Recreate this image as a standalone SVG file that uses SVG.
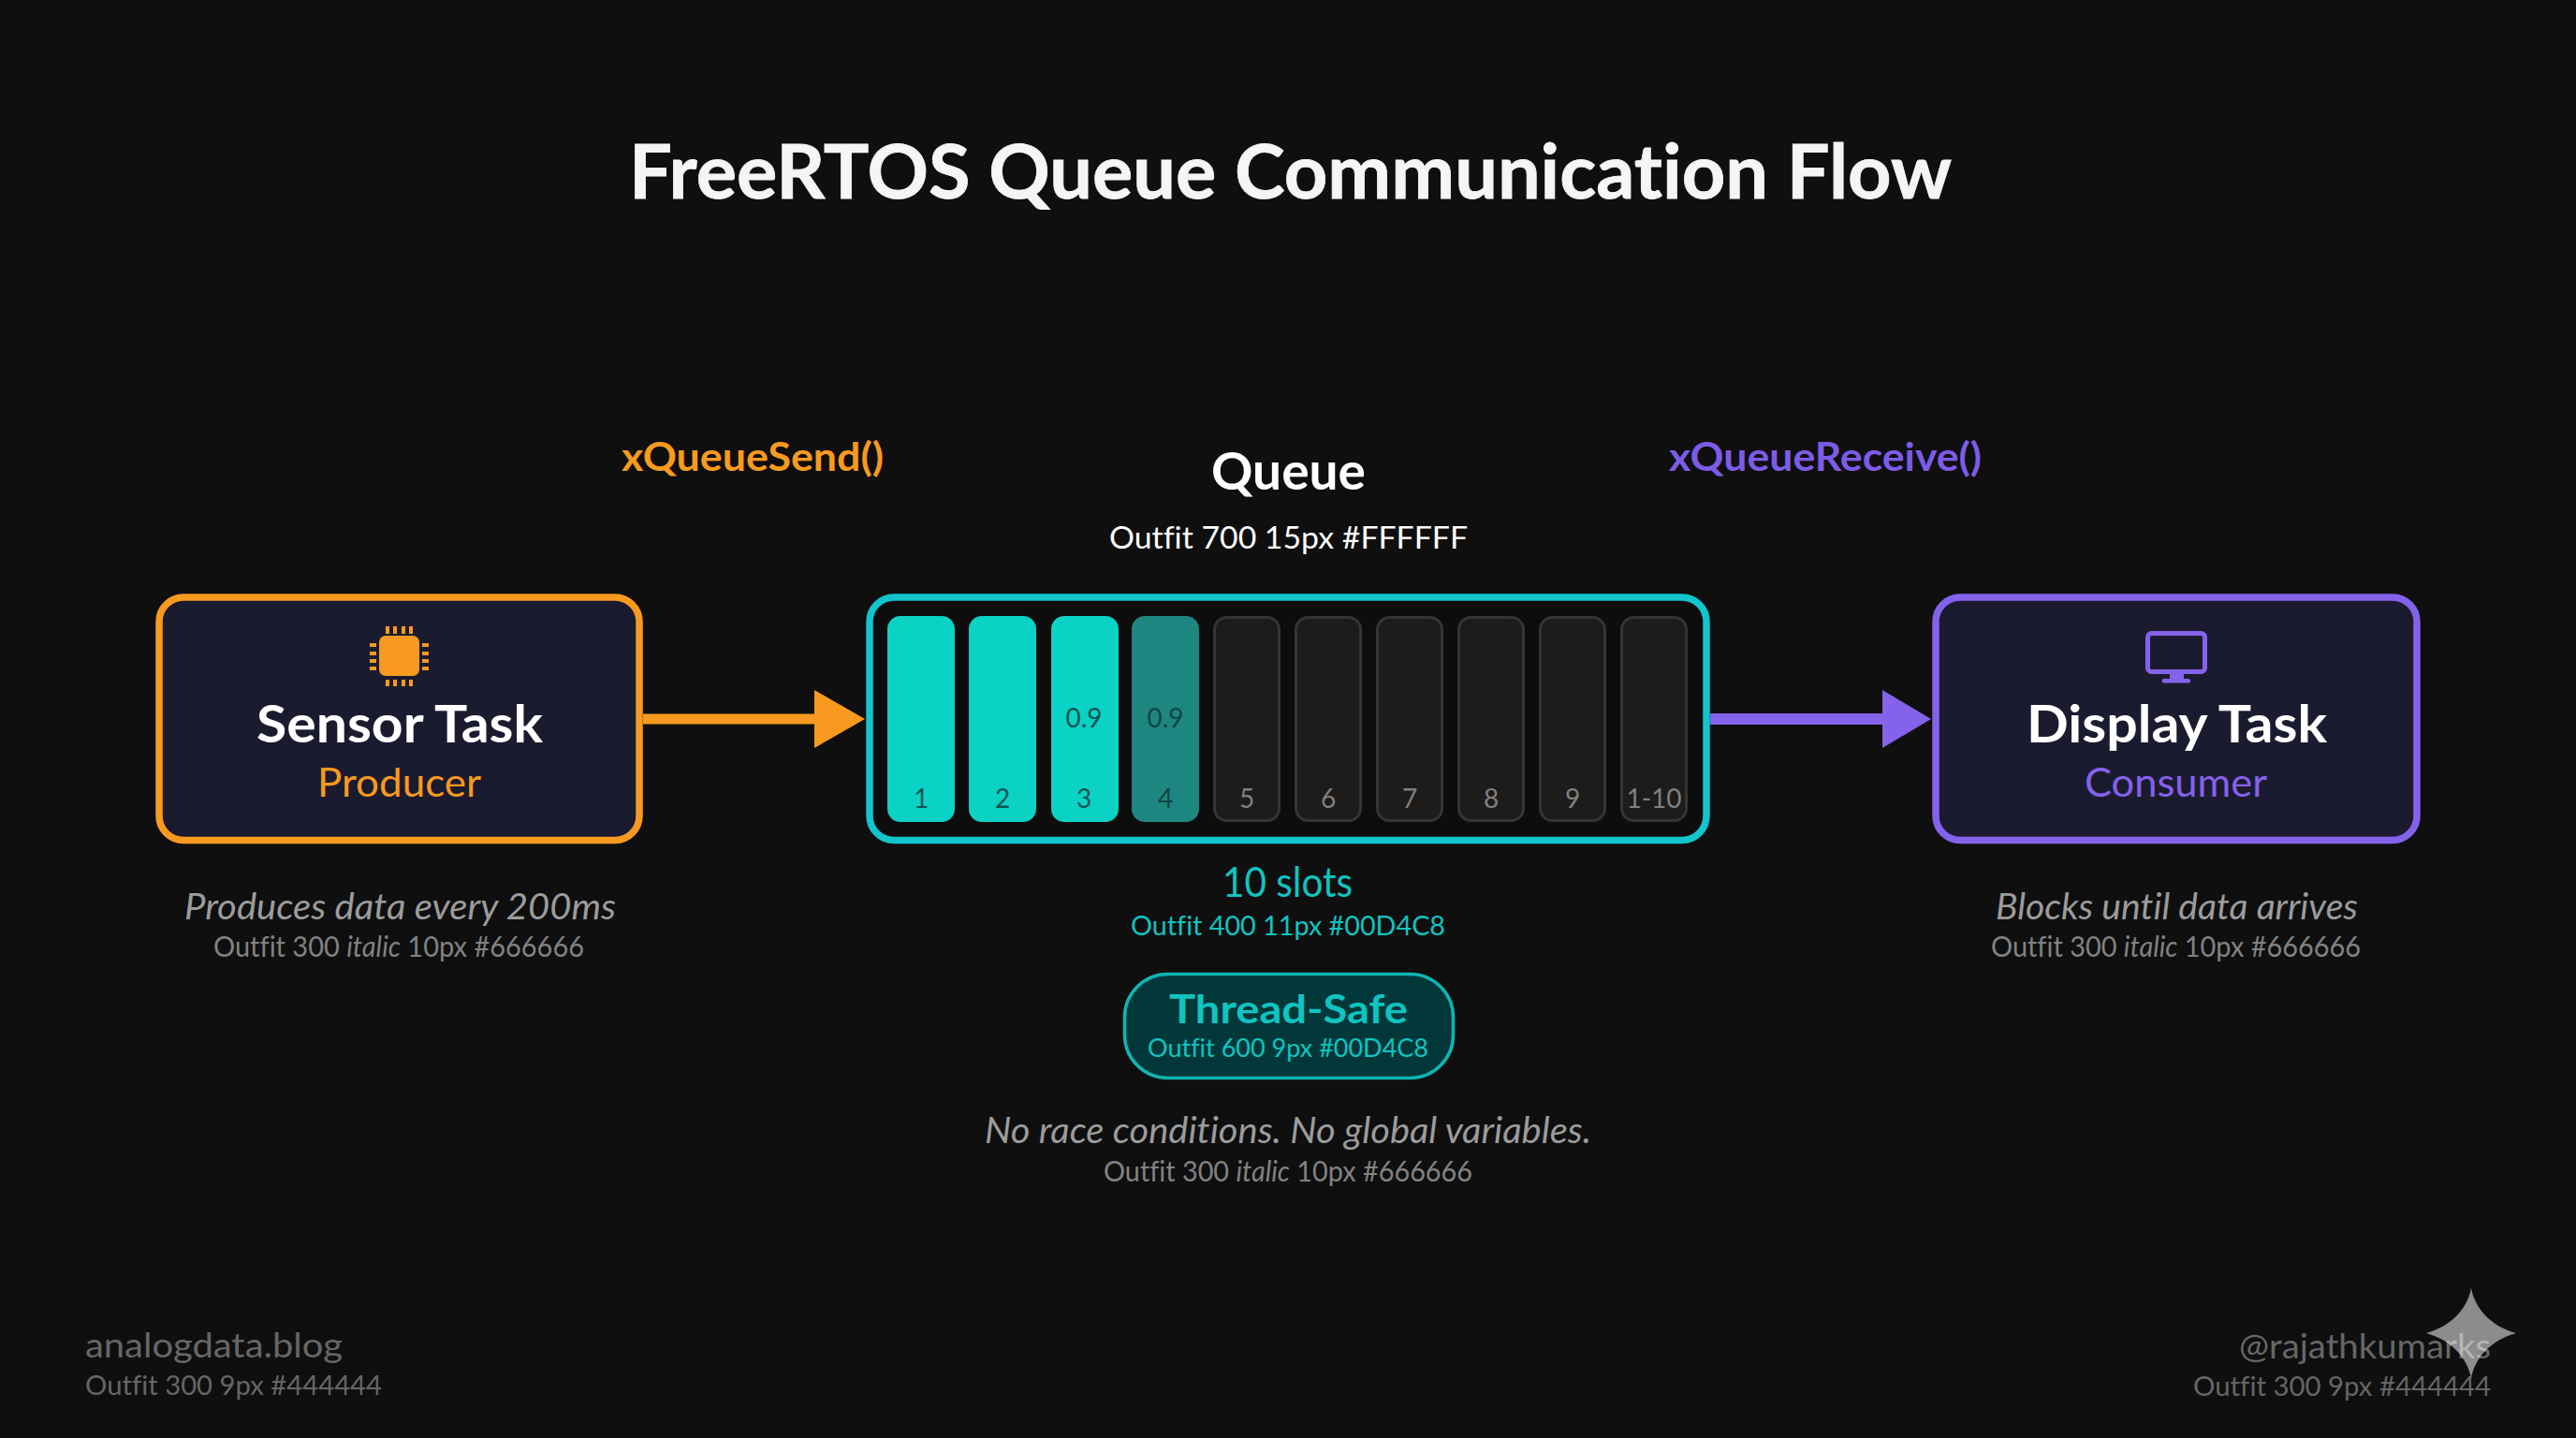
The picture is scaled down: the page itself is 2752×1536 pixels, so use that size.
<svg xmlns="http://www.w3.org/2000/svg" width="2752" height="1536" viewBox="0 0 2752 1536">
<style>
text{font-family:"Lato","Open Sans","Liberation Sans",sans-serif;font-variant-ligatures:none}
.bg{fill:#0f0f0f}
.box{stroke-width:7.5}
.or{fill:#f79a1f}
.pu{fill:#8562ea}
.h1{font-size:81px;font-weight:700;fill:#f5f5f5;stroke:#f5f5f5;stroke-width:.8}
.name{font-size:56px;font-weight:700;fill:#fff}
.role{font-size:42px;font-weight:400}
.fn{font-size:42px;font-weight:700}
.desc{font-size:38px;font-weight:400;font-style:italic;fill:#9c9c9c}
.sub{font-size:30px;font-weight:400;fill:#828282}
.sub tspan{font-style:italic}
.foot{font-size:36px;font-weight:400;fill:#666}
.footsub{font-size:28px;font-weight:400;fill:#666}
.teal{fill:#10c4c0}
.full{fill:#0ad2c5}
.half{fill:#1e8680}
.empty{fill:#1d1c1b;stroke:#353535;stroke-width:3}
.num{font-size:28px;font-weight:400;text-anchor:middle}
.d{fill:#0c5452}
.d2{fill:#0e4644}
.e{fill:#808080}
</style>
<defs>
<marker id="headO" markerUnits="userSpaceOnUse" markerWidth="54" markerHeight="62" refX="0" refY="31" orient="auto"><path d="M0 0L54 31L0 62Z" fill="#f79a1f"/></marker>
<marker id="headP" markerUnits="userSpaceOnUse" markerWidth="52" markerHeight="62" refX="0" refY="31" orient="auto"><path d="M0 0L52 31L0 62Z" fill="#8562ea"/></marker>
</defs>
<rect class="bg" width="2752" height="1536"/>
<g id="title"><text class="h1" x="672" y="212" textLength="1413" lengthAdjust="spacingAndGlyphs">FreeRTOS Queue Communication Flow</text></g>

<g id="connectors">
<line x1="687" y1="768" x2="870" y2="768" stroke="#f79a1f" stroke-width="11" marker-end="url(#headO)"/>
<line x1="1827" y1="768" x2="2011" y2="768" stroke="#8562ea" stroke-width="12" marker-end="url(#headP)"/>
<text class="fn or" x="664" y="503" textLength="280" lengthAdjust="spacingAndGlyphs">xQueueSend()</text>
<text class="fn" fill="#7c5ce6" x="1783" y="503" textLength="334" lengthAdjust="spacingAndGlyphs">xQueueReceive()</text>
</g>

<g id="sensor-task">
<rect class="box" x="170" y="638" width="513" height="259.500" rx="26" fill="#1b1b30" stroke="#f79a1f"/>
<g id="chip-icon" class="or">
<rect x="405" y="679" width="43" height="43" rx="7"/>
<path d="M412 669h4v8h-4zM420 669h4v8h-4zM429 669h4v8h-4zM437 669h4v8h-4zM412 726h4v7h-4zM420 726h4v7h-4zM429 726h4v7h-4zM437 726h4v7h-4zM395 687h7v4h-7zM395 696h7v4h-7zM395 704h7v4h-7zM395 712h7v4h-7zM451 687h7v4h-7zM451 696h7v4h-7zM451 704h7v4h-7zM451 712h7v4h-7z"/>
</g>
<text class="name" x="274" y="793" textLength="306" lengthAdjust="spacingAndGlyphs">Sensor Task</text>
<text class="role or" x="339" y="851" textLength="175" lengthAdjust="spacingAndGlyphs">Producer</text>
<text class="desc" x="197" y="982" textLength="461" lengthAdjust="spacingAndGlyphs">Produces data every 200ms</text>
<text class="sub" x="228" y="1022" textLength="396" lengthAdjust="spacingAndGlyphs">Outfit 300 <tspan>italic</tspan> 10px #666666</text>
</g>

<g id="queue">
<text class="name" x="1294" y="523" textLength="165" lengthAdjust="spacingAndGlyphs">Queue</text>
<text class="sub" style="fill:#fff;font-size:33px" x="1185" y="586" textLength="383" lengthAdjust="spacingAndGlyphs">Outfit 700 15px #FFFFFF</text>
<rect class="box" x="929" y="638" width="894" height="259.500" rx="26" fill="#0d0d0d" stroke="#12c4cc"/>
<g id="slots">
<rect class="full" x="948" y="658" width="72" height="220" rx="14"/>
<rect class="full" x="1035" y="658" width="72" height="220" rx="14"/>
<rect class="full" x="1123" y="658" width="72" height="220" rx="14"/>
<rect class="half" x="1209" y="658" width="72" height="220" rx="14"/>
<rect class="empty" x="1297.500" y="659.500" width="69" height="217" rx="13"/>
<rect class="empty" x="1384.500" y="659.500" width="69" height="217" rx="13"/>
<rect class="empty" x="1471.500" y="659.500" width="69" height="217" rx="13"/>
<rect class="empty" x="1558.500" y="659.500" width="69" height="217" rx="13"/>
<rect class="empty" x="1645.500" y="659.500" width="69" height="217" rx="13"/>
<rect class="empty" x="1732.500" y="659.500" width="69" height="217" rx="13"/>
<text class="num d" x="1158" y="777">0.9</text>
<text class="num d2" x="1245" y="777">0.9</text>
<text class="num d" x="984" y="863">1</text>
<text class="num d" x="1071" y="863">2</text>
<text class="num d" x="1158" y="863">3</text>
<text class="num d2" x="1245" y="863">4</text>
<text class="num e" x="1332" y="863">5</text>
<text class="num e" x="1419" y="863">6</text>
<text class="num e" x="1506" y="863">7</text>
<text class="num e" x="1593" y="863">8</text>
<text class="num e" x="1680" y="863">9</text>
<text class="num e" x="1767" y="863">1-10</text>
</g>
<text class="teal" style="font-size:44px" x="1306" y="958" textLength="139" lengthAdjust="spacingAndGlyphs">10 slots</text>
<text class="teal" style="font-size:29px" x="1208" y="999" textLength="336" lengthAdjust="spacingAndGlyphs">Outfit 400 11px #00D4C8</text>
</g>

<g id="thread-safe">
<rect x="1201.500" y="1040.500" width="351" height="111" rx="46" fill="#03383b" stroke="#10b4b2" stroke-width="3.500"/>
<text class="teal" style="font-size:42px;font-weight:700" x="1249" y="1093" textLength="255" lengthAdjust="spacingAndGlyphs">Thread-Safe</text>
<text class="teal" style="font-size:26px" x="1226" y="1129" textLength="300" lengthAdjust="spacingAndGlyphs">Outfit 600 9px #00D4C8</text>
<text class="desc" x="1052" y="1221" textLength="648" lengthAdjust="spacingAndGlyphs">No race conditions. No global variables.</text>
<text class="sub" x="1179" y="1262" textLength="394" lengthAdjust="spacingAndGlyphs">Outfit 300 <tspan>italic</tspan> 10px #666666</text>
</g>

<g id="display-task">
<rect class="box" x="2068" y="638" width="514" height="259.500" rx="26" fill="#1b1b30" stroke="#8562ea"/>
<g id="monitor-icon">
<rect x="2294.500" y="676.500" width="61" height="41" rx="4" fill="none" stroke="#8562ea" stroke-width="5"/>
<path d="M2318 719h15v7h-15zM2312 725h26a2 2 0 0 1 0 4.500h-26a2 2 0 0 1 0-4.500z" class="pu"/>
</g>
<text class="name" x="2165" y="793" textLength="321" lengthAdjust="spacingAndGlyphs">Display Task</text>
<text class="role" fill="#8562ea" x="2227" y="851" textLength="195" lengthAdjust="spacingAndGlyphs">Consumer</text>
<text class="desc" x="2132" y="982" textLength="387" lengthAdjust="spacingAndGlyphs">Blocks until data arrives</text>
<text class="sub" x="2127" y="1022" textLength="395" lengthAdjust="spacingAndGlyphs">Outfit 300 <tspan>italic</tspan> 10px #666666</text>
</g>

<g id="footer">
<text class="foot" x="91" y="1450" textLength="275" lengthAdjust="spacingAndGlyphs">analogdata.blog</text>
<text class="footsub" x="91" y="1490" textLength="317" lengthAdjust="spacingAndGlyphs">Outfit 300 9px #444444</text>
<text class="foot" x="2392" y="1451" textLength="269" lengthAdjust="spacingAndGlyphs">@rajathkumarks</text>
<text class="footsub" x="2343" y="1491" textLength="318" lengthAdjust="spacingAndGlyphs">Outfit 300 9px #444444</text>
<path d="M2640 1376C2644 1398 2662 1417 2688 1424C2662 1431 2644 1450 2640 1472C2636 1450 2618 1431 2592 1424C2618 1417 2636 1398 2640 1376Z" fill="#fff" fill-opacity=".52"/>
</g>
</svg>
